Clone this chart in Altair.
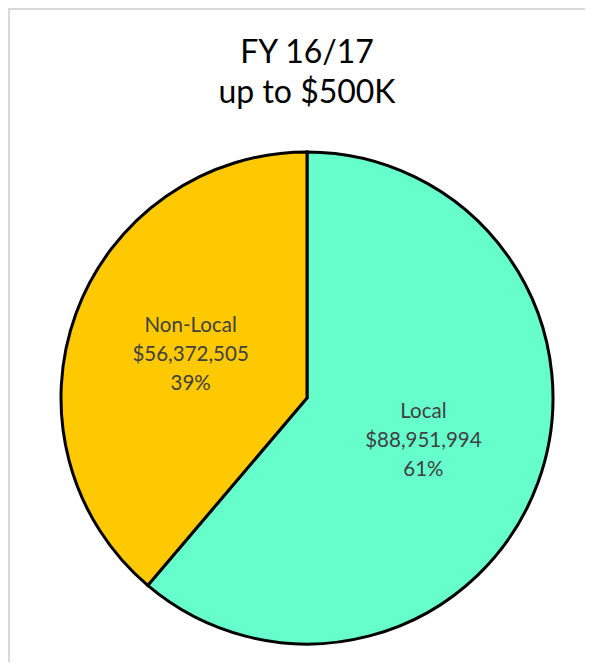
import altair as alt
import pandas as pd

# Data
categories = ["Local", "Non-Local"]
amounts = [88951994, 56372505]
percent_labels = ["61%", "39%"]
colors = ["#66FFCC", "#FFC900"]
title_lines = ["FY 16/17", "up to $500K"]

df = pd.DataFrame({
    "category": categories,
    "amount": amounts,
    "idx": list(range(len(categories))),
    "label": [f"{c}\n${a:,}\n{p}" for c, a, p in zip(categories, amounts, percent_labels)],
})

FONT = "Lato"
CX, CY = 299, 390
LH = 29

base = alt.Chart(df).encode(
    theta=alt.Theta("amount:Q", stack=True),
    color=alt.Color("category:N", scale=alt.Scale(domain=categories, range=colors), legend=None),
    order=alt.Order("idx:Q"),
)

arcs = base.mark_arc(outerRadius=246, stroke="black", strokeWidth=3).encode(
    x=alt.value(CX), y=alt.value(CY)
)

labels = base.mark_text(
    radius=124, fontSize=20.5, lineBreak="\n", font=FONT,
    baseline="middle", align="center", lineHeight=LH, dy=-LH
).encode(
    x=alt.value(CX), y=alt.value(CY), text="label:N", color=alt.value("#404040")
)

title_df = pd.DataFrame({"t": ["\n".join(title_lines)]})
title = alt.Chart(title_df).mark_text(
    fontSize=32, font=FONT, lineBreak="\n", lineHeight=39.5, color="black",
    baseline="middle", align="center"
).encode(x=alt.value(CX), y=alt.value(45), text="t:N")

frame_df = pd.DataFrame({"f": [0]})
frame_left = alt.Chart(frame_df).mark_rule(stroke="#D9D9D9", strokeWidth=2).encode(
    x=alt.value(1), y=alt.value(0), y2=alt.value(654)
)
frame_top = alt.Chart(frame_df).mark_rule(stroke="#D9D9D9", strokeWidth=2).encode(
    x=alt.value(0), x2=alt.value(577), y=alt.value(1)
)

chart = alt.layer(frame_left, frame_top, arcs, labels, title).properties(
    width=577, height=654, padding=0, autosize="none"
).configure_view(stroke=None)

chart.save("out.html", embed_options={"renderer": "svg", "actions": False})
